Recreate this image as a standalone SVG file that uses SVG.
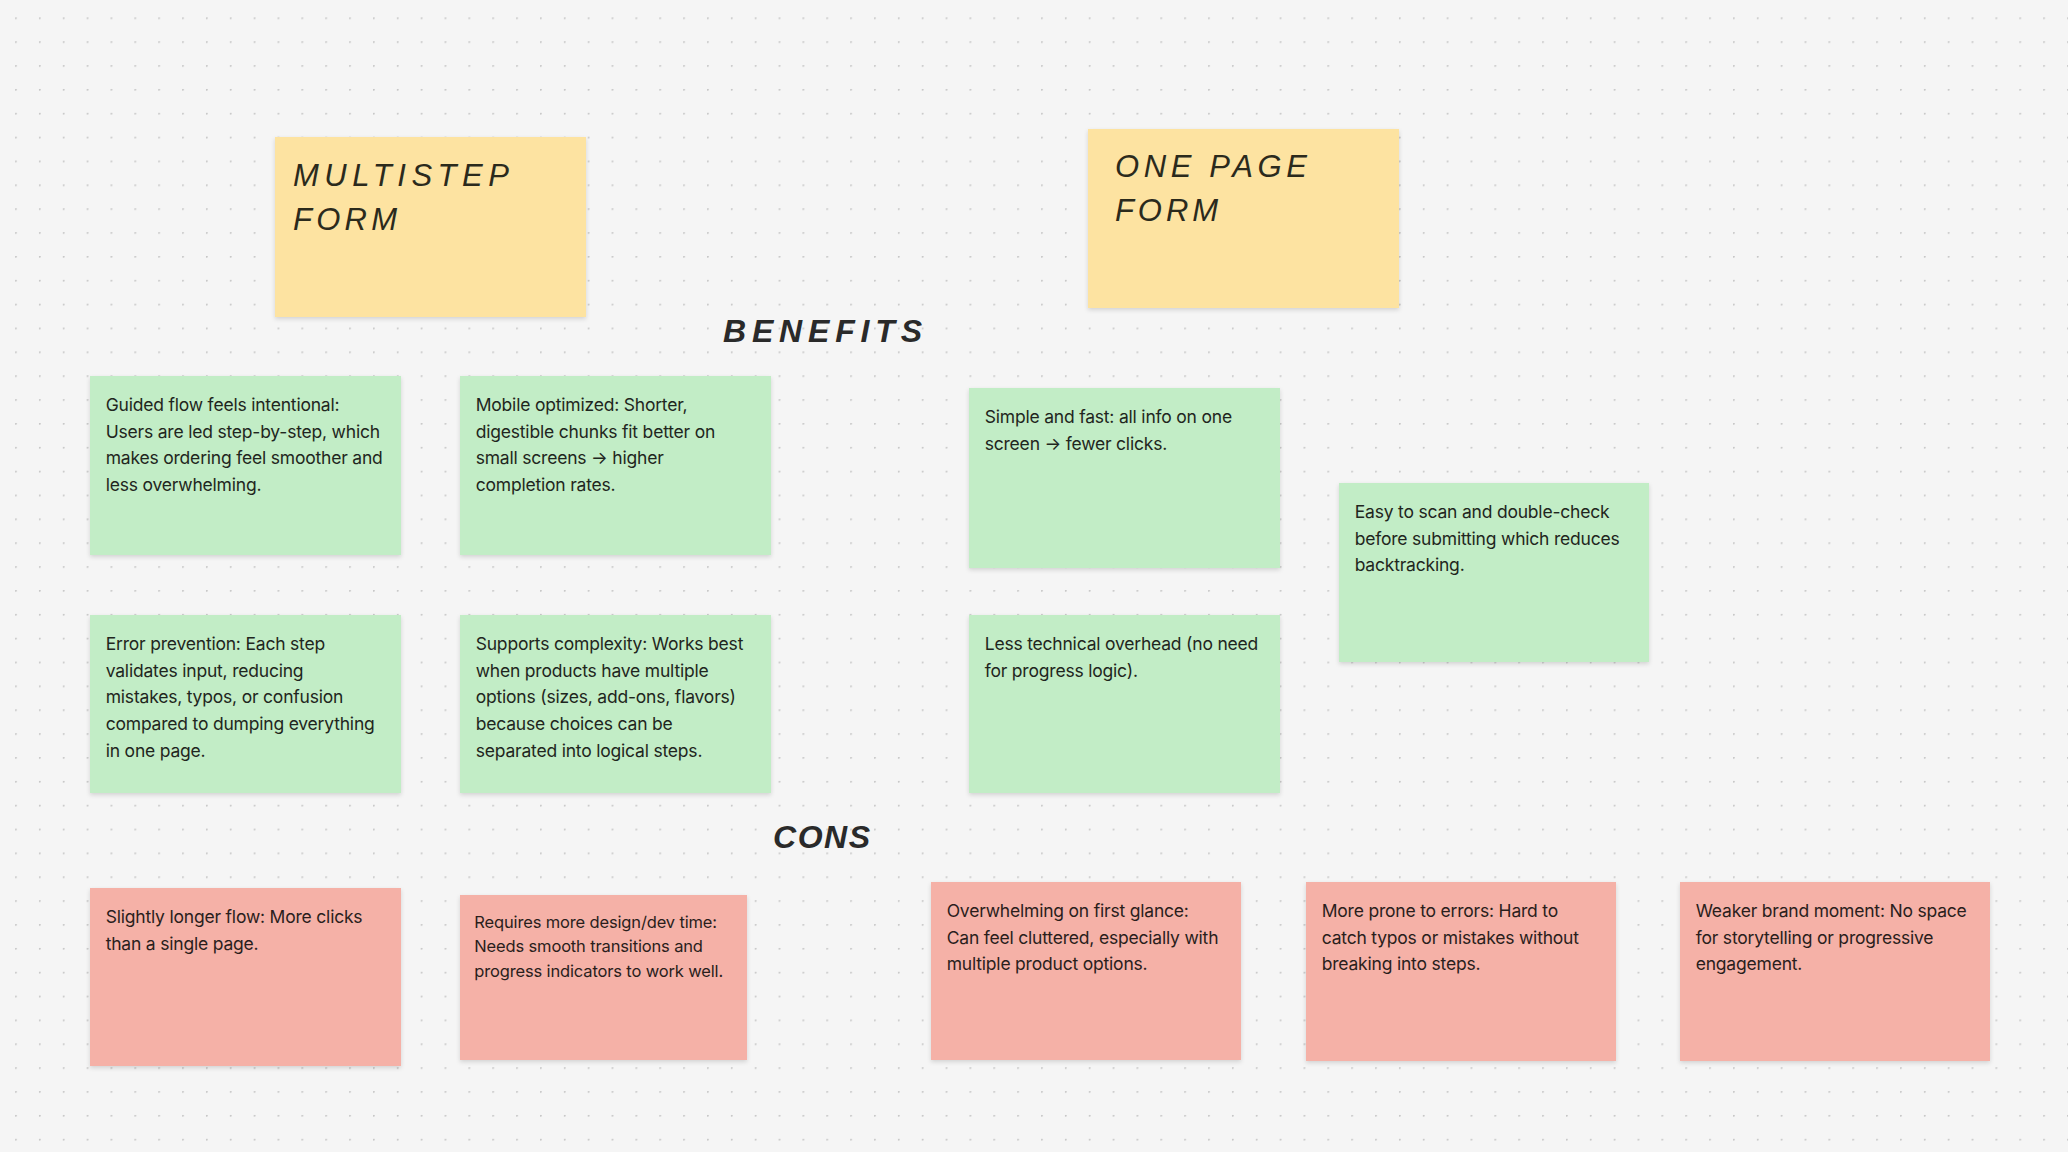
<svg xmlns="http://www.w3.org/2000/svg" width="2068" height="1152" viewBox="0 0 2068 1152">
  <defs>
    <pattern id="dots" x="15.1" y="17.4" width="23.86" height="23.86" patternUnits="userSpaceOnUse">
      <circle cx="0.8" cy="0.8" r="1" fill="#c6c6c6"/>
    </pattern>
    <filter id="shadow" x="-5%" y="-5%" width="110%" height="115%">
      <feDropShadow dx="0" dy="2" stdDeviation="2" flood-color="#000" flood-opacity="0.14"/>
    </filter>
  </defs>
  <style>
    .yellow { fill: #fde3a1; filter: url(#shadow); }
    .green { fill: #c2edc6; filter: url(#shadow); }
    .red { fill: #f5b1a7; filter: url(#shadow); }
    .body { font-family: Inter, "Liberation Sans", sans-serif; font-size: 17.5px; letter-spacing: -0.2px; fill: #1f2620; }
    .body.r { fill: #2a1e1c; }
    .small { font-family: Inter, "Liberation Sans", sans-serif; font-size: 16.5px; letter-spacing: -0.15px; fill: #2a1e1c; }
    .hand { font-family: "Liberation Sans", sans-serif; font-style: italic; font-size: 31px; fill: #2b2a1c; }
    .head { font-family: "Liberation Sans", sans-serif; font-style: italic; font-weight: bold; font-size: 32px; fill: #2a2a2a; }
  </style>
  <rect x="0" y="0" width="2068" height="1152" fill="#f5f5f5"/>
  <rect x="0" y="0" width="2068" height="1152" fill="url(#dots)"/>

  <g id="connectors"></g>

  <g id="title-multistep">
    <rect class="yellow" x="275" y="137" width="311" height="180"/>
    <text class="hand" x="293" y="186" textLength="216" lengthAdjust="spacing">MULTISTEP</text>
    <text class="hand" x="293" y="230" textLength="104" lengthAdjust="spacing">FORM</text>
  </g>

  <g id="title-onepage">
    <rect class="yellow" x="1088" y="129" width="311" height="179"/>
    <text class="hand" x="1115" y="177" textLength="192" lengthAdjust="spacing">ONE PAGE</text>
    <text class="hand" x="1115" y="221" textLength="103" lengthAdjust="spacing">FORM</text>
  </g>

  <g id="label-benefits">
    <text class="head" x="723" y="342" textLength="199" lengthAdjust="spacing">BENEFITS</text>
  </g>

  <g id="label-cons">
    <text class="head" x="773" y="848" textLength="97" lengthAdjust="spacing">CONS</text>
  </g>

  <g id="b-guided">
    <rect class="green" x="90" y="376" width="311" height="179"/>
    <text class="body" x="105.7" y="411">
      <tspan x="105.7" dy="0">Guided flow feels intentional:</tspan>
      <tspan x="105.7" dy="26.7">Users are led step-by-step, which</tspan>
      <tspan x="105.7" dy="26.7">makes ordering feel smoother and</tspan>
      <tspan x="105.7" dy="26.7">less overwhelming.</tspan>
    </text>
  </g>

  <g id="b-mobile">
    <rect class="green" x="460" y="376" width="311" height="179"/>
    <text class="body" x="475.7" y="411">
      <tspan x="475.7" dy="0">Mobile optimized: Shorter,</tspan>
      <tspan x="475.7" dy="26.7">digestible chunks fit better on</tspan>
      <tspan x="475.7" dy="26.7">small screens → higher</tspan>
      <tspan x="475.7" dy="26.7">completion rates.</tspan>
    </text>
  </g>

  <g id="b-error">
    <rect class="green" x="90" y="615" width="311" height="178"/>
    <text class="body" x="105.7" y="650">
      <tspan x="105.7" dy="0">Error prevention: Each step</tspan>
      <tspan x="105.7" dy="26.7">validates input, reducing</tspan>
      <tspan x="105.7" dy="26.7">mistakes, typos, or confusion</tspan>
      <tspan x="105.7" dy="26.7">compared to dumping everything</tspan>
      <tspan x="105.7" dy="26.7">in one page.</tspan>
    </text>
  </g>

  <g id="b-complexity">
    <rect class="green" x="460" y="615" width="311" height="178"/>
    <text class="body" x="475.7" y="650">
      <tspan x="475.7" dy="0">Supports complexity: Works best</tspan>
      <tspan x="475.7" dy="26.7">when products have multiple</tspan>
      <tspan x="475.7" dy="26.7">options (sizes, add-ons, flavors)</tspan>
      <tspan x="475.7" dy="26.7">because choices can be</tspan>
      <tspan x="475.7" dy="26.7">separated into logical steps.</tspan>
    </text>
  </g>

  <g id="b-simple">
    <rect class="green" x="969" y="388" width="311" height="180"/>
    <text class="body" x="984.7" y="423">
      <tspan x="984.7" dy="0">Simple and fast: all info on one</tspan>
      <tspan x="984.7" dy="26.7">screen → fewer clicks.</tspan>
    </text>
  </g>

  <g id="b-scan">
    <rect class="green" x="1339" y="483" width="310" height="179"/>
    <text class="body" x="1354.7" y="518">
      <tspan x="1354.7" dy="0">Easy to scan and double-check</tspan>
      <tspan x="1354.7" dy="26.7">before submitting which reduces</tspan>
      <tspan x="1354.7" dy="26.7">backtracking.</tspan>
    </text>
  </g>

  <g id="b-overhead">
    <rect class="green" x="969" y="615" width="311" height="178"/>
    <text class="body" x="984.7" y="650">
      <tspan x="984.7" dy="0">Less technical overhead (no need</tspan>
      <tspan x="984.7" dy="26.7">for progress logic).</tspan>
    </text>
  </g>

  <g id="c-longer">
    <rect class="red" x="90" y="888" width="311" height="178"/>
    <text class="body r" x="105.7" y="923">
      <tspan x="105.7" dy="0">Slightly longer flow: More clicks</tspan>
      <tspan x="105.7" dy="26.7">than a single page.</tspan>
    </text>
  </g>

  <g id="c-design">
    <rect class="red" x="460" y="895" width="287" height="165"/>
    <text class="small" x="474.3" y="927.7">
      <tspan x="474.3" dy="0">Requires more design/dev time:</tspan>
      <tspan x="474.3" dy="24.5">Needs smooth transitions and</tspan>
      <tspan x="474.3" dy="24.5">progress indicators to work well.</tspan>
    </text>
  </g>

  <g id="c-overwhelming">
    <rect class="red" x="931" y="882" width="310" height="178"/>
    <text class="body r" x="946.7" y="917">
      <tspan x="946.7" dy="0">Overwhelming on first glance:</tspan>
      <tspan x="946.7" dy="26.7">Can feel cluttered, especially with</tspan>
      <tspan x="946.7" dy="26.7">multiple product options.</tspan>
    </text>
  </g>

  <g id="c-errors">
    <rect class="red" x="1306" y="882" width="310" height="179"/>
    <text class="body r" x="1321.7" y="917">
      <tspan x="1321.7" dy="0">More prone to errors: Hard to</tspan>
      <tspan x="1321.7" dy="26.7">catch typos or mistakes without</tspan>
      <tspan x="1321.7" dy="26.7">breaking into steps.</tspan>
    </text>
  </g>

  <g id="c-brand">
    <rect class="red" x="1680" y="882" width="310" height="179"/>
    <text class="body r" x="1695.7" y="917">
      <tspan x="1695.7" dy="0">Weaker brand moment: No space</tspan>
      <tspan x="1695.7" dy="26.7">for storytelling or progressive</tspan>
      <tspan x="1695.7" dy="26.7">engagement.</tspan>
    </text>
  </g>
</svg>
